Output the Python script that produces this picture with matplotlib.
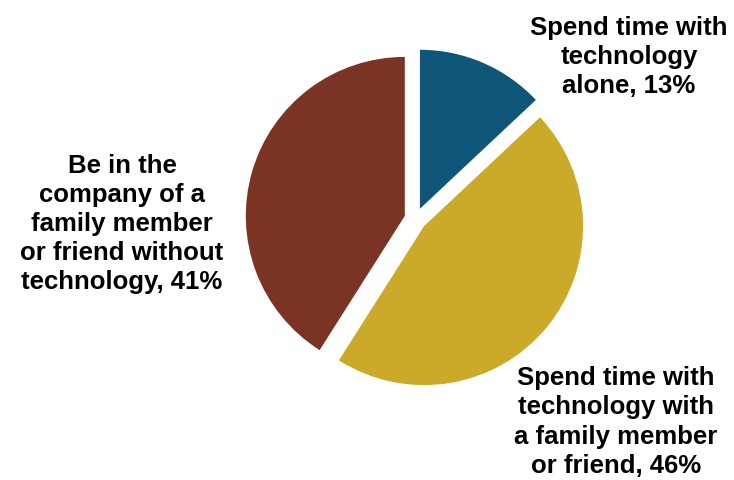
import matplotlib
matplotlib.use("Agg")
from matplotlib import pyplot as plt

plt.rcParams['font.family'] = ['Liberation Sans', 'DejaVu Sans']

# slice data (clockwise from 12 o'clock)
labels = ["Spend time with\ntechnology\nalone, 13%",
          "Spend time with\ntechnology with\na family member\nor friend, 46%",
          "Be in the\ncompany of a\nfamily member\nor friend without\ntechnology, 41%"]
values = [13, 46, 41]
colors = ["#0E5578", "#CBAA29", "#7B3323"]

W, H = 734, 481
R = 159.0            # pie radius in pixels
cx, cy = 415.5, 220  # pie centre in pixels (from top-left)

fig = plt.figure(figsize=(W / 100, H / 100), dpi=100)
ax = fig.add_axes([0, 0, 1, 1])
ax.pie(values, colors=colors, startangle=90, counterclock=False,
       explode=[0.07, 0.07, 0.07], radius=1.0,
       wedgeprops=dict(linewidth=0))
ax.set_xlim(-cx / R, (W - cx) / R)
ax.set_ylim(-(H - cy) / R, cy / R)
ax.set_aspect('equal')
ax.axis('off')

# label positions in pixels (centre of text block)
label_pos = [(629, 57), (616, 422), (122, 224)]
for lab, (px, py) in zip(labels, label_pos):
    fig.text(px / W, 1 - py / H, lab, ha='center', va='center',
             fontsize=18.5, fontweight='bold', color='black', linespacing=1.27)

fig.savefig("out.png", dpi=100)
